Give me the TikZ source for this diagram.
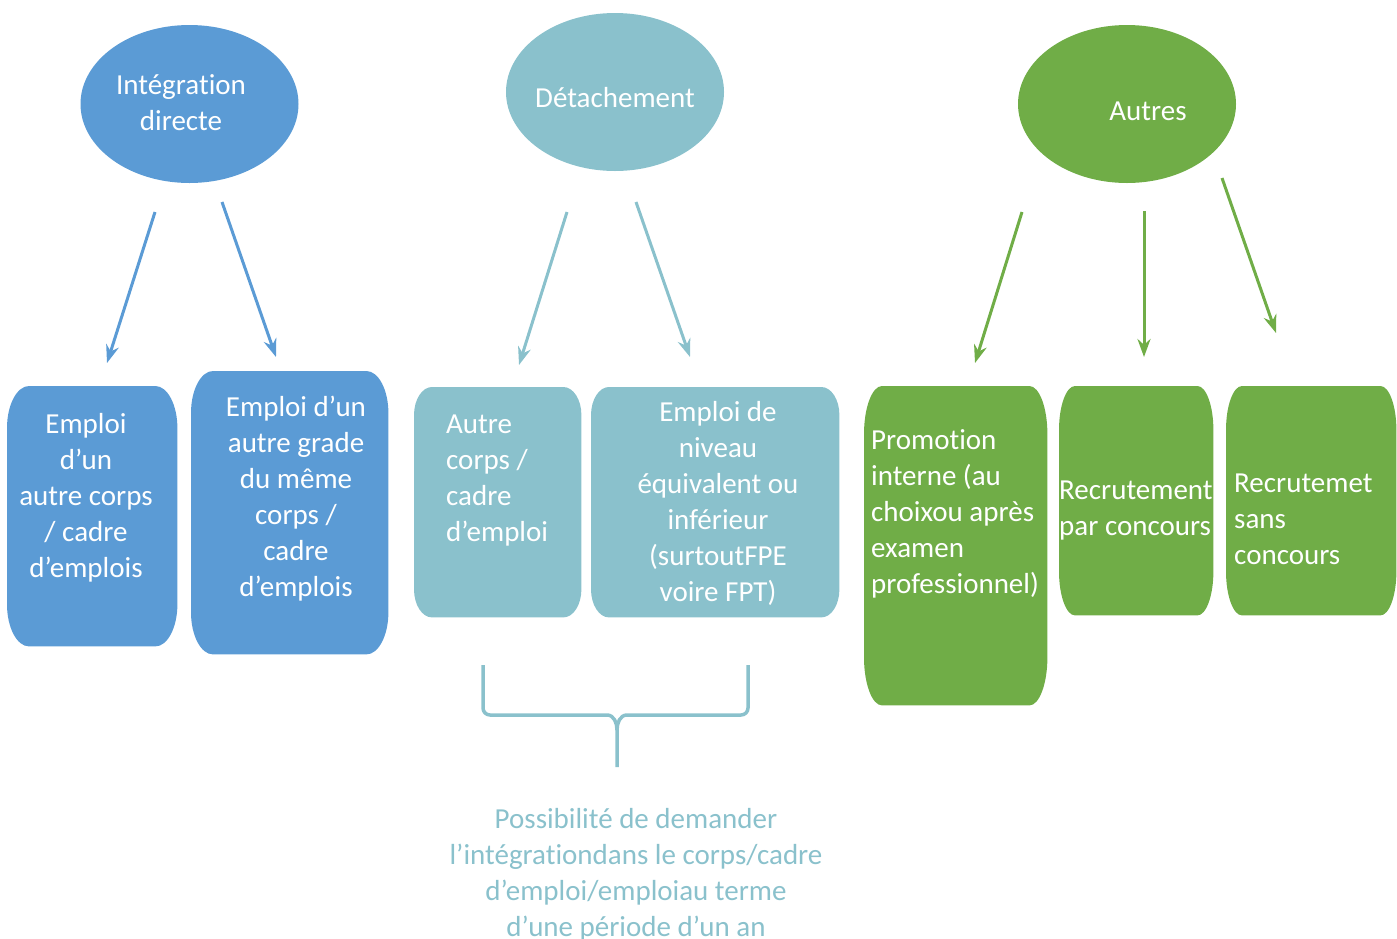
\documentclass[tikz,border=0pt]{standalone}
\usepackage{fontspec}
\setmainfont{Carlito}[Ligatures=NoCommon]
\usetikzlibrary{arrows.meta,shapes.geometric}
\definecolor{cblue}{HTML}{5B9BD5}
\definecolor{cteal}{HTML}{8AC1CC}
\definecolor{cgreen}{HTML}{70AD47}
% rounded box with elliptical corners: node name, colour, rx, ry
\newcommand\ovalbox[4]{%
  \fill[#2]
    ([shift={(0,#4)}]#1.north west)
      .. controls ([shift={(0,0.45*#4)}]#1.north west) and ([shift={(0.45*#3,0)}]#1.north west) ..
    ([shift={(#3,0)}]#1.north west) -- ([shift={(-#3,0)}]#1.north east)
      .. controls ([shift={(-0.45*#3,0)}]#1.north east) and ([shift={(0,0.45*#4)}]#1.north east) ..
    ([shift={(0,#4)}]#1.north east) -- ([shift={(0,-#4)}]#1.south east)
      .. controls ([shift={(0,-0.45*#4)}]#1.south east) and ([shift={(-0.45*#3,0)}]#1.south east) ..
    ([shift={(-#3,0)}]#1.south east) -- ([shift={(#3,0)}]#1.south west)
      .. controls ([shift={(0.45*#3,0)}]#1.south west) and ([shift={(0,-0.45*#4)}]#1.south west) ..
    ([shift={(0,-#4)}]#1.south west) -- cycle;}
\begin{document}
\begin{tikzpicture}[x=1pt,y=-1pt,
  oval/.style={ellipse, minimum width=218pt, minimum height=158pt, inner sep=0pt},
  box/.style={inner sep=0pt, anchor=north west},
  txt/.style={text=white, font=\fontsize{29}{36}\selectfont, inner sep=0pt},
  link/.style={line width=3pt, -{Stealth[length=18pt,width=13pt]}},
]
\useasboundingbox (0,0) rectangle (1397,938);

% ellipses
\node[oval, fill=cblue] (e1) at (189.5,104) {};
\node[oval, fill=cteal] (e2) at (615,92) {};
\node[oval, fill=cgreen] (e3) at (1127,104) {};
\node[txt, align=center] (e1t) at (181,103) {Intégration\\directe};
\node[txt] (e2t) at (615,98) {Détachement};
\node[txt] (e3t) at (1148,111) {Autres};

% boxes
\node[box, minimum width=170pt, minimum height=260pt] (b1) at (7,386) {};
\node[box, minimum width=197pt, minimum height=283pt] (b2) at (191,371) {};
\node[box, minimum width=167pt, minimum height=230pt] (t1) at (414,387) {};
\node[box, minimum width=248pt, minimum height=230pt] (t2) at (591,387) {};
\node[box, minimum width=183pt, minimum height=319pt] (g1) at (864,386) {};
\node[box, minimum width=154pt, minimum height=229pt] (g2) at (1059,386) {};
\node[box, minimum width=170pt, minimum height=229pt] (g3) at (1226,386) {};
\ovalbox{b1}{cblue}{22}{42}
\ovalbox{b2}{cblue}{22}{42}
\ovalbox{t1}{cteal}{18}{28}
\ovalbox{t2}{cteal}{18}{28}
\ovalbox{g1}{cgreen}{18}{48}
\ovalbox{g2}{cgreen}{16}{44}
\ovalbox{g3}{cgreen}{16}{44}

\node[txt, align=center] (b1t) at (86,497.5) {Emploi\\d’un\\autre corps\\/ cadre\\d’emplois};
\node[txt, align=center] (b2t) at (296,499) {Emploi d’un\\autre grade\\du même\\corps /\\cadre\\d’emplois};
\node[txt, align=left, anchor=west] (t1t) at (446,481) {Autre\\corps /\\cadre\\d’emploi};
\node[txt, align=center] (t2t) at (718,503) {Emploi de\\niveau\\équivalent ou\\inférieur\\(surtoutFPE\\voire FPT)};
\node[txt, align=left, anchor=west] (g1t) at (871,514) {Promotion\\interne (au\\choixou après\\examen\\professionnel)};
\node[txt, align=left, anchor=west] (g2t) at (1059,510.5) {Recrutement\\par concours};
\node[txt, align=left, anchor=west] (g3t) at (1234,519.5) {Recrutemet\\sans\\concours};

% arrows
\coordinate (a1s) at (155,212); \coordinate (a1e) at (107,363);
\coordinate (a2s) at (222,202); \coordinate (a2e) at (276,357);
\coordinate (a3s) at (567,212); \coordinate (a3e) at (519,365);
\coordinate (a4s) at (636,202); \coordinate (a4e) at (690,357);
\coordinate (a5s) at (1022,212); \coordinate (a5e) at (975,363);
\coordinate (a6s) at (1144,211); \coordinate (a6e) at (1144,357);
\coordinate (a7s) at (1222,178); \coordinate (a7e) at (1276,333);
\draw[link, cblue] (a1s) -- (a1e);
\draw[link, cblue] (a2s) -- (a2e);
\draw[link, cteal] (a3s) -- (a3e);
\draw[link, cteal] (a4s) -- (a4e);
\draw[link, cgreen] (a5s) -- (a5e);
\draw[link, cgreen] (a6s) -- (a6e);
\draw[link, cgreen] (a7s) -- (a7e);

% brace
\draw[cteal, line width=3.5pt, line join=round]
  (483,665) -- (483,708) to[out=-90,in=180] (490,715) -- (607,715)
  to[out=0,in=90] (617,730) -- (617,767);
\draw[cteal, line width=3.5pt, line join=round]
  (748,665) -- (748,708) to[out=-90,in=0] (741,715) -- (627,715)
  to[out=180,in=90] (617,730);

% bottom text
\node[txt, text=cteal, align=center] (note) at (636,875) {Possibilité de demander\\l’intégrationdans le corps/cadre\\d’emploi/emploiau terme\\d’une période d’un an};
\end{tikzpicture}
\end{document}
